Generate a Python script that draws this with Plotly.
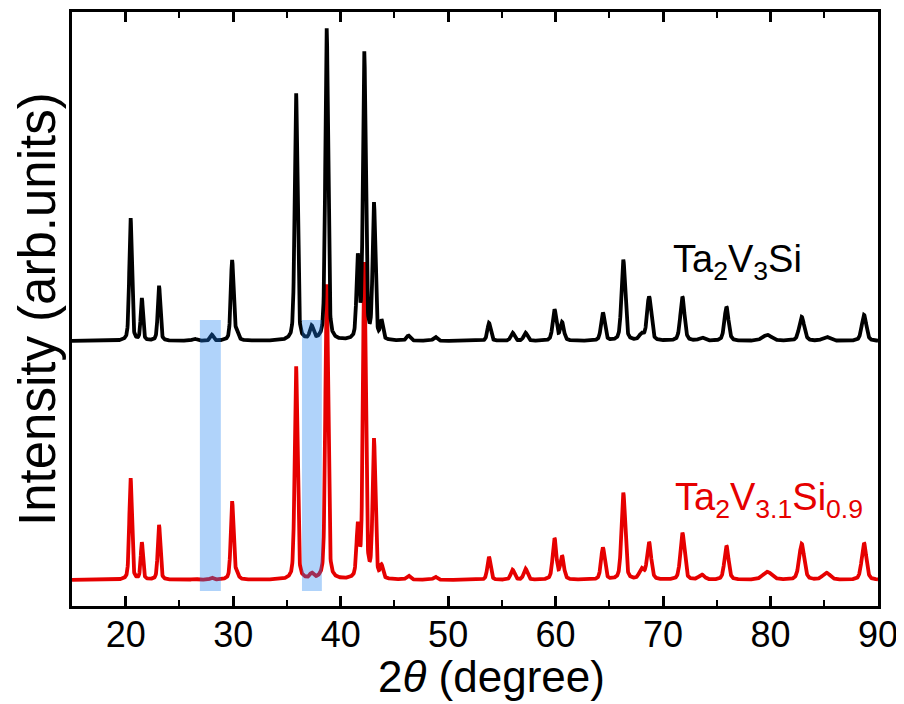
import numpy as np
import plotly.graph_objects as go

# Peak positions (2theta, degree)
peak_pos = [20.45, 21.5, 23.1, 26.4, 28.0, 29.9, 30.3, 35.85, 37.3, 38.7,
            41.6, 42.2, 43.1, 43.8, 46.3, 48.8, 53.8, 56.0, 57.2, 59.9,
            60.6, 64.4, 66.3, 68.0, 68.7, 71.8, 73.6, 75.9, 79.7, 82.9,
            85.2, 88.7]
# Peak heights (arb. units) for each sample
peak_black = [123, 42, 55, 2, 6, 80, 8, 248, 13, 312,
              80, 286, 135, 18, 5, 4, 18, 8, 8, 31,
              18, 28, 81, 6, 44, 44, 3, 34, 6, 24,
              4, 26]
peak_red = [102, 37, 55, 1, 2, 78, 6, 214, 5, 295,
            50, 315, 138, 12, 4, 3, 23, 10, 11, 41,
            23, 32, 87, 10, 37, 47, 5, 34, 8, 36,
            7, 37]
# Peak widths (FWHM, degree)
peak_fwhm = [0.28, 0.25, 0.28, 0.5, 0.35, 0.3, 0.4, 0.3, 0.4, 0.3,
             0.3, 0.3, 0.3, 0.3, 0.4, 0.4, 0.35, 0.4, 0.4, 0.4,
             0.4, 0.4, 0.4, 0.5, 0.45, 0.45, 0.6, 0.45, 1.0, 0.55,
             0.8, 0.5]

baseline_black = 265
baseline_red = 26

labels = ["Ta<sub>2</sub>V<sub>3</sub>Si", "Ta<sub>2</sub>V<sub>3.1</sub>Si<sub>0.9</sub>"]
label_x = [76.9, 79.85]
label_y = [344, 106]

# Highlighted regions (2theta ranges)
band_x0 = [26.9, 36.4]
band_x1 = [28.85, 38.25]
band_y0 = 15
band_y1 = 286

x_ticks = [20, 30, 40, 50, 60, 70, 80, 90]

two_theta = np.arange(15.0, 90.0001, 0.02)


def profile(heights, base):
    y = np.full_like(two_theta, float(base))
    for p, h, w in zip(peak_pos, heights, peak_fwhm):
        d = (two_theta - p) / (w / 2.0)
        lor = 1.0 / (1.0 + d ** 2)
        gau = np.exp(-np.log(2.0) * d ** 2)
        y += h * (0.4 * lor + 0.6 * gau)
    return y


y_black = profile(peak_black, baseline_black)
y_red = profile(peak_red, baseline_red)

RED = "#e60000"
FONT = "Liberation Sans, Arial, sans-serif"

fig = go.Figure()
fig.add_trace(go.Scatter(x=two_theta, y=y_red, mode="lines",
                         line=dict(color=RED, width=3.8), showlegend=False))
fig.add_trace(go.Scatter(x=two_theta, y=y_black, mode="lines",
                         line=dict(color="black", width=3.8), showlegend=False))

for a, b in zip(band_x0, band_x1):
    fig.add_shape(type="rect", x0=a, x1=b, y0=band_y0, y1=band_y1,
                  xref="x", yref="y", line=dict(width=0),
                  fillcolor="rgba(30,130,240,0.35)", layer="above")

fig.add_annotation(x=label_x[0], y=label_y[0], text=labels[0], showarrow=False,
                   font=dict(size=38, color="black", family=FONT))
fig.add_annotation(x=label_x[1], y=label_y[1], text=labels[1], showarrow=False,
                   font=dict(size=38, color=RED, family=FONT))

fig.add_annotation(x=0, y=0.5, xref="paper", yref="paper", xshift=-35,
                   xanchor="center", yanchor="middle",
                   text="Intensity (arb.units)", textangle=-90, showarrow=False,
                   font=dict(size=51, color="black", family=FONT))
fig.add_annotation(x=0.521, y=0, xref="paper", yref="paper", yshift=-70,
                   xanchor="center", yanchor="middle",
                   text="2<i>θ</i> (degree)", showarrow=False,
                   font=dict(size=44, color="black", family=FONT))

fig.update_xaxes(range=[15, 90], tickvals=x_ticks, ticks="inside", ticklen=10,
                 tickwidth=2.5, tickcolor="black", showline=True, linewidth=3,
                 linecolor="black", mirror="allticks", showgrid=False,
                 zeroline=False, automargin=False, ticklabelstandoff=-5,
                 tickfont=dict(size=36, color="black", family=FONT),
                 minor=dict(dtick=5, tick0=15, ticks="inside", ticklen=6,
                            tickwidth=2, tickcolor="black"))
fig.update_yaxes(range=[0, 594], showticklabels=False, ticks="", showline=True,
                 linewidth=3, linecolor="black", mirror=True, showgrid=False,
                 zeroline=False, automargin=False)

# The page body adds an 8px offset, so the figure is 8px smaller than the window.
fig.update_layout(width=896, height=696, margin=dict(l=64, r=26, t=4, b=98),
                  plot_bgcolor="white", paper_bgcolor="white",
                  font=dict(family=FONT))

fig.write_html("out.html")
